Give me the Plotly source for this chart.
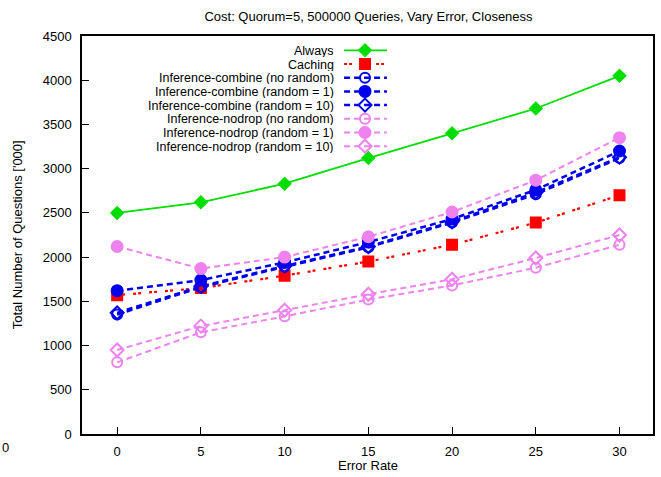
import plotly.graph_objects as go

error_rate = [0, 5, 10, 15, 20, 25, 30]
always = [2500, 2620, 2830, 3120, 3400, 3680, 4050]
caching = [1570, 1650, 1790, 1950, 2140, 2390, 2700]
comb_norand = [1350, 1660, 1890, 2110, 2390, 2710, 3120]
comb_r1 = [1620, 1740, 1940, 2170, 2430, 2760, 3200]
comb_r10 = [1370, 1670, 1900, 2120, 2400, 2730, 3130]
nodrop_norand = [810, 1150, 1330, 1520, 1680, 1880, 2140]
nodrop_r1 = [2120, 1870, 2000, 2230, 2510, 2870, 3350]
nodrop_r10 = [950, 1220, 1400, 1580, 1750, 1990, 2250]

y_ticks = [0, 500, 1000, 1500, 2000, 2500, 3000, 3500, 4000, 4500]
x_ticks = [0, 5, 10, 15, 20, 25, 30]

GREEN = "#00dd00"
RED = "#ff0000"
BLUE = "#0000ee"
PINK = "#ee82ee"

DOTS = "3px,2px,3px,8px"
DASH = "6px,4px"

series = [
    ("Always", always, GREEN, "solid", 1.8, "diamond", 9),
    ("Caching", caching, RED, DOTS, 2.2, "square", 10),
    ("Inference-combine (no random)", comb_norand, BLUE, DASH, 2.5, "circle-open", 10),
    ("Inference-combine (random = 1)", comb_r1, BLUE, DASH, 2.5, "circle", 11),
    ("Inference-combine (random = 10)", comb_r10, BLUE, DASH, 2.5, "diamond-open", 10),
    ("Inference-nodrop (no random)", nodrop_norand, PINK, DASH, 2, "circle-open", 10),
    ("Inference-nodrop (random = 1)", nodrop_r1, PINK, DASH, 2, "circle", 11),
    ("Inference-nodrop (random = 10)", nodrop_r10, PINK, DASH, 2, "diamond-open", 10),
]

fig = go.Figure()
annotations = []
FONT = "Liberation Sans, Arial, sans-serif"
FS = 13
LEG_FS = 12.5

L, R, T, B = 82, 6, 36, 43
W, H = 661, 477
pw, ph = W - L - R, H - T - B

# legend geometry (pixels)
leg_y0 = 50.3
leg_dy = 13.7
leg_text_x = 336
leg_x1, leg_x2, leg_xm = 345, 388, 366

for i, (name, ys, col, dash, lw, sym, ms) in enumerate(series):
    fig.add_trace(go.Scatter(
        x=error_rate, y=ys, mode="lines+markers", name=name,
        line=dict(color=col, dash=dash, width=lw),
        marker=dict(symbol=sym, size=ms, color=col, line=dict(color=col, width=2)),
        showlegend=False, xaxis="x", yaxis="y"))
    ly = leg_y0 + i * leg_dy
    fig.add_trace(go.Scatter(
        x=[leg_x1, leg_x2], y=[ly, ly], mode="lines",
        line=dict(color=col, dash=dash, width=lw),
        showlegend=False, xaxis="x2", yaxis="y2", hoverinfo="skip"))
    fig.add_trace(go.Scatter(
        x=[leg_xm], y=[ly], mode="markers",
        marker=dict(symbol=sym, size=ms, color=col, line=dict(color=col, width=2)),
        showlegend=False, xaxis="x2", yaxis="y2", hoverinfo="skip"))
    annotations.append(dict(
        x=leg_text_x, y=ly, xref="x2", yref="y2", text=name, showarrow=False,
        xanchor="right", yanchor="middle", height=13, borderpad=0,
        font=dict(size=LEG_FS, color="black", family=FONT)))

# stray "0" label at bottom-left
annotations.append(dict(x=(5 - L) / pw, y=(H - B - 447) / ph, xref="paper", yref="paper",
                        text="0", showarrow=False, xanchor="center", yanchor="middle",
                        font=dict(size=FS, color="black", family=FONT)))
# axis titles
annotations.append(dict(x=(369 - L) / pw, y=(H - B - 466) / ph, xref="paper", yref="paper",
                        text="Error Rate", showarrow=False, xanchor="center", yanchor="middle",
                        font=dict(size=FS, color="black", family=FONT)))
annotations.append(dict(x=(17 - L) / pw, y=(H - B - 235) / ph, xref="paper", yref="paper",
                        text="Total Number of Questions ['000]", showarrow=False, textangle=-90,
                        xanchor="center", yanchor="middle",
                        font=dict(size=FS, color="black", family=FONT)))

fig.update_layout(
    width=W, height=H,
    margin=dict(l=L, r=R, t=T, b=B, pad=0),
    paper_bgcolor="white", plot_bgcolor="white",
    font=dict(family=FONT, size=FS, color="black"),
    title=dict(text="Cost: Quorum=5, 500000 Queries, Vary Error, Closeness",
               x=(L + pw / 2) / W, xanchor="center", y=1 - 16 / H, yanchor="middle",
               font=dict(size=FS)),
    xaxis=dict(range=[-2.1, 32.0], tickvals=x_ticks, ticks="inside", ticklen=7,
               tickcolor="black", tickwidth=1, showgrid=False, zeroline=False,
               showline=True, linecolor="black", linewidth=1.5, mirror=True,
               ticklabelstandoff=5, tickfont=dict(size=FS)),
    yaxis=dict(range=[0, 4500], tickvals=y_ticks, ticks="inside", ticklen=7,
               tickcolor="black", tickwidth=1, showgrid=False, zeroline=False,
               showline=True, linecolor="black", linewidth=1.5, mirror=True,
               ticklabelstandoff=6, tickfont=dict(size=FS)),
    xaxis2=dict(range=[L, W - R], overlaying="x", anchor="y2", visible=False, fixedrange=True),
    yaxis2=dict(range=[H - B, T], overlaying="y", anchor="x2", visible=False, fixedrange=True),
    annotations=annotations,
)

fig.write_html("out.html")
